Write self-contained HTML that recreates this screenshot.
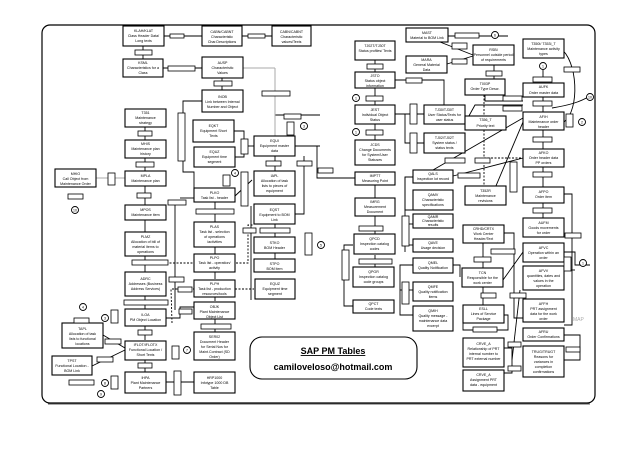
<!DOCTYPE html>
<html><head><meta charset="utf-8"><style>
html,body{margin:0;padding:0;background:#fff;}
svg{display:block;}
text{font-family:"Liberation Sans",sans-serif;fill:#000;}
.b{fill:#fff;stroke:#000;stroke-width:1.1;}
.l{fill:#fff;stroke:#000;stroke-width:0.8;}
.c{fill:none;stroke:#000;stroke-width:0.9;}
.d{fill:none;stroke:#000;stroke-width:0.9;stroke-dasharray:2 1.5;}
.g{fill:none;stroke:#aaa;stroke-width:1;}
.t{font-size:3.6px;text-anchor:middle;}
.s{font-size:2.6px;text-anchor:middle;}
</style></head><body>
<svg width="638" height="452" viewBox="0 0 638 452" xmlns="http://www.w3.org/2000/svg">
<rect x="42" y="25" width="553" height="378" rx="8" fill="#fff" stroke="#000" stroke-width="1.2"/>
<line x1="48" y1="404" x2="590" y2="404" stroke="#555" stroke-width="1"/>

<!-- connectors -->
<g class="c">
<line x1="164" y1="36" x2="202" y2="36"/><line x1="242" y1="36" x2="272" y2="36"/>
<line x1="143" y1="46" x2="143" y2="59"/><line x1="163" y1="68" x2="202" y2="68"/>
<line x1="222" y1="78" x2="222" y2="90"/>
<polyline points="202,101 183,101 183,172 194,172 194,188"/>
<line x1="145" y1="127" x2="145" y2="140"/><line x1="145" y1="158" x2="145" y2="171"/>
<line x1="96" y1="178" x2="125" y2="178"/><line x1="145" y1="186" x2="145" y2="205"/>
<line x1="145" y1="220" x2="145" y2="232"/>
<polyline points="234,131 244,131 244,157 235,157"/><line x1="244" y1="146" x2="254" y2="146"/>
<polyline points="275,136 275,115 320,115"/><line x1="295" y1="146" x2="320" y2="146"/>
<polyline points="304,156 304,214 295,214"/><line x1="275" y1="156" x2="275" y2="171"/>
<polyline points="295,146 317,146 317,178 355,178"/>
<line x1="215" y1="202" x2="215" y2="222"/><line x1="215" y1="247" x2="215" y2="254"/>
<line x1="215" y1="272" x2="215" y2="279"/><line x1="215" y1="289" x2="215" y2="301"/>
<line x1="215" y1="317" x2="215" y2="332"/>
<line x1="235" y1="196" x2="252" y2="180"/>
<polyline points="175,202 175,310"/><polyline points="180,198 194,198"/>
<line x1="145" y1="256" x2="145" y2="272"/><line x1="145" y1="287" x2="145" y2="309"/>
<line x1="145" y1="326" x2="145" y2="340"/><line x1="145" y1="360" x2="145" y2="372"/>
<polyline points="166,318 180,318 180,307 194,307"/>
<line x1="166" y1="382" x2="194" y2="382"/>
<line x1="103" y1="335" x2="125" y2="348"/><line x1="92" y1="366" x2="125" y2="350"/>
<line x1="275" y1="224" x2="275" y2="237"/><line x1="275" y1="253" x2="275" y2="259"/>
<line x1="251" y1="206" x2="251" y2="300"/>
<line x1="395" y1="80" x2="424" y2="80"/><polyline points="414,80 444,80 444,105"/>
<line x1="375" y1="60" x2="375" y2="72"/><line x1="375" y1="88" x2="375" y2="105"/>
<line x1="375" y1="124" x2="375" y2="140"/>
<polyline points="395,114 405,114 405,143 424,143"/><line x1="405" y1="114" x2="424" y2="114"/>
<line x1="375" y1="185" x2="375" y2="198"/><line x1="375" y1="216" x2="375" y2="235"/>
<line x1="375" y1="255" x2="375" y2="267"/>
<polyline points="353,245 344,245 344,306 353,306"/>
<polyline points="413,177 405,177 405,210 413,210"/><line x1="405" y1="177" x2="405" y2="252"/>
<polyline points="405,224 413,224"/><polyline points="405,245 413,245"/>
<polyline points="413,265 400,265 400,315 413,315"/><polyline points="400,290 413,290"/>
<polyline points="453,265 460,265 460,277"/>
<line x1="448" y1="36" x2="508" y2="36"/><line x1="440" y1="42" x2="473" y2="55"/>
<line x1="447" y1="64" x2="473" y2="56"/><line x1="494" y1="65" x2="494" y2="79"/>
<polyline points="485,95 485,101 523,101"/><polyline points="465,123 475,105 523,105"/>
<line x1="543" y1="97" x2="543" y2="112"/><line x1="543" y1="130" x2="543" y2="149"/>
<line x1="543" y1="167" x2="543" y2="187"/><line x1="543" y1="203" x2="543" y2="218"/>
<polyline points="564,194 572,194 572,325 564,325"/><polyline points="504,233 514,233 514,318 523,318"/>
<line x1="543" y1="81" x2="543" y2="70"/>
<path d="M560 48 C578 60 580 110 564 122"/>
<path d="M552 108 C570 105 580 102 590 96"/>
<line x1="453" y1="176" x2="523" y2="158"/><line x1="490" y1="200" x2="523" y2="122"/>
<line x1="433" y1="170" x2="523" y2="118"/>
<line x1="483" y1="243" x2="483" y2="268"/><line x1="503" y1="280" x2="523" y2="252"/>
<line x1="483" y1="287" x2="483" y2="307"/>
<polyline points="504,348 512,348 512,373 504,373"/><line x1="512" y1="360" x2="520" y2="290"/>
<polyline points="564,335 580,335 580,360 564,360"/>
<polyline points="564,252 575,252 575,265 590,265"/>
<polyline points="504,315 508,315 508,330 463,330 463,315"/>
<line x1="564" y1="270" x2="575" y2="270"/>
</g>
<g class="d">
<line x1="484" y1="95" x2="484" y2="186"/><line x1="484" y1="158" x2="523" y2="158"/>
<polyline points="166,263 235,263 248,263 248,225 254,225"/>
<polyline points="172,323 171,289 194,289"/><polyline points="235,289 254,289"/>
</g>
<line class="g" x1="243" y1="68" x2="275" y2="68"/><line class="g" x1="275" y1="68" x2="275" y2="136"/>
<line class="g" x1="96" y1="178" x2="125" y2="178"/>

<!-- boxes -->
<g>
<rect class="b" x="123" y="26" width="41" height="20"/><text class="t" x="143.5" y="32">KLAH/KLAT</text><text class="t" x="143.5" y="37">Class Header Data/</text><text class="t" x="143.5" y="42">Long texts</text>
<rect class="b" x="202" y="26" width="40" height="20"/><text class="t" x="222" y="33">CABN/CABNT</text><text class="t" x="222" y="38">Characteristic</text><text class="t" x="222" y="43">Char.Descriptions</text>
<rect class="b" x="272" y="26" width="39" height="20"/><text class="t" x="291.5" y="33">CABN/CABNT</text><text class="t" x="291.5" y="38">Characteristic</text><text class="t" x="291.5" y="43">values/Texts</text>
<rect class="b" x="123" y="59" width="40" height="18"/><text class="t" x="143" y="64">KSML</text><text class="t" x="143" y="69">Characteristics for a</text><text class="t" x="143" y="74">Class</text>
<rect class="b" x="202" y="57" width="41" height="21"/><text class="t" x="222.5" y="64">AUSP</text><text class="t" x="222.5" y="69">Characteristic</text><text class="t" x="222.5" y="74">Values</text>
<rect class="b" x="202" y="90" width="41" height="22"/><text class="t" x="222.5" y="98">INOB</text><text class="t" x="222.5" y="103">Link between Internal</text><text class="t" x="222.5" y="108">Number and Object</text>
<rect class="b" x="125" y="109" width="41" height="18"/><text class="t" x="145.5" y="114">T351</text><text class="t" x="145.5" y="119">Maintenance</text><text class="t" x="145.5" y="124">strategy</text>
<rect class="b" x="193" y="120" width="41" height="22"/><text class="t" x="213.5" y="127">EQKT</text><text class="t" x="213.5" y="132">Equipment Short</text><text class="t" x="213.5" y="137">Texts</text>
<rect class="b" x="194" y="147" width="41" height="20"/><text class="t" x="214.5" y="153">EQUZ</text><text class="t" x="214.5" y="158">Equipment time</text><text class="t" x="214.5" y="163">segment</text>
<rect class="b" x="254" y="136" width="41" height="20"/><text class="t" x="274.5" y="142">EQUI</text><text class="t" x="274.5" y="147">Equipment master</text><text class="t" x="274.5" y="152">data</text>
<rect class="b" x="125" y="140" width="41" height="18"/><text class="t" x="145.5" y="145">MHIS</text><text class="t" x="145.5" y="150">Maintenance plan</text><text class="t" x="145.5" y="155">history</text>
<rect class="b" x="125" y="171" width="41" height="15"/><text class="t" x="145.5" y="177">MPLA</text><text class="t" x="145.5" y="182">Maintenance plan</text>
<rect class="b" x="55" y="169" width="41" height="18"/><text class="t" x="75.5" y="175">MHIO</text><text class="t" x="75.5" y="180">Call Object from</text><text class="t" x="75.5" y="185">Maintenance Order</text>
<rect class="b" x="254" y="171" width="41" height="25"/><text class="t" x="274.5" y="177">IAPL</text><text class="t" x="274.5" y="182">Allocation of task</text><text class="t" x="274.5" y="187">lists to pieces of</text><text class="t" x="274.5" y="192">equipment</text>
<rect class="b" x="194" y="188" width="41" height="14"/><text class="t" x="214.5" y="194">PLKO</text><text class="t" x="214.5" y="199">Task list - header</text>
<rect class="b" x="254" y="204" width="41" height="20"/><text class="t" x="274.5" y="211">EQST</text><text class="t" x="274.5" y="216">Equipment to BOM</text><text class="t" x="274.5" y="221">Link</text>
<rect class="b" x="125" y="205" width="41" height="15"/><text class="t" x="145.5" y="211">MPOS</text><text class="t" x="145.5" y="216">Maintenance item</text>
<rect class="b" x="194" y="222" width="41" height="25"/><text class="t" x="214.5" y="228">PLAS</text><text class="t" x="214.5" y="233">Task list - selection</text><text class="t" x="214.5" y="238">of operations</text><text class="t" x="214.5" y="243">/activities</text>
<rect class="b" x="125" y="232" width="41" height="24"/><text class="t" x="145.5" y="238">PLMZ</text><text class="t" x="145.5" y="243">Allocation of bill of</text><text class="t" x="145.5" y="248">material items to</text><text class="t" x="145.5" y="253">operations</text>
<rect class="b" x="254" y="237" width="41" height="16"/><text class="t" x="274.5" y="244">STKO</text><text class="t" x="274.5" y="249">BOM Header</text>
<rect class="b" x="254" y="259" width="41" height="13"/><text class="t" x="274.5" y="265">STPO</text><text class="t" x="274.5" y="270">BOM item</text>
<rect class="b" x="194" y="254" width="41" height="18"/><text class="t" x="214.5" y="259">PLPO</text><text class="t" x="214.5" y="264">Task list - operation/</text><text class="t" x="214.5" y="269">activity</text>
<rect class="b" x="125" y="272" width="41" height="24"/><text class="t" x="145.5" y="280">ADRC</text><text class="t" x="145.5" y="285">Addresses (Business</text><text class="t" x="145.5" y="290">Address Services)</text>
<rect class="b" x="194" y="280" width="41" height="17"/><text class="t" x="214.5" y="285">PLPH</text><text class="t" x="214.5" y="290">Task list - production</text><text class="t" x="214.5" y="295">resources/tools</text>
<rect class="b" x="255" y="279" width="40" height="20"/><text class="t" x="275" y="285">EQUZ</text><text class="t" x="275" y="290">Equipment time</text><text class="t" x="275" y="295">segment</text>
<rect class="b" x="125" y="309" width="41" height="17"/><text class="t" x="145.5" y="316">ILOA</text><text class="t" x="145.5" y="321">PM Object Location</text>
<rect class="b" x="194" y="302" width="41" height="17"/><text class="t" x="214.5" y="308">OBJK</text><text class="t" x="214.5" y="313">Plant Maintenance</text><text class="t" x="214.5" y="318">Object List</text>
<rect class="b" x="125" y="341" width="41" height="19"/><text class="t" x="145.5" y="346">IFLOT/IFLOTX</text><text class="t" x="145.5" y="351">Functional Location /</text><text class="t" x="145.5" y="356">Short Texts</text>
<rect class="b" x="194" y="332" width="41" height="28"/><text class="t" x="214.5" y="338">SER02</text><text class="t" x="214.5" y="343">Document Header</text><text class="t" x="214.5" y="348">for Serial Nos for</text><text class="t" x="214.5" y="353">Maint.Contract (SD</text><text class="t" x="214.5" y="358">Order)</text>
<rect class="b" x="62" y="323" width="41" height="25"/><text class="t" x="82.5" y="330">TAPL</text><text class="t" x="82.5" y="335">Allocation of task</text><text class="t" x="82.5" y="340">lists to functional</text><text class="t" x="82.5" y="345">locations</text>
<rect class="b" x="52" y="356" width="40" height="19"/><text class="t" x="72" y="362">TPST</text><text class="t" x="72" y="367">Functional Location -</text><text class="t" x="72" y="372">BOM Link</text>
<rect class="b" x="125" y="372" width="41" height="21"/><text class="t" x="145.5" y="379">IHPA</text><text class="t" x="145.5" y="384">Plant Maintenance</text><text class="t" x="145.5" y="389">Partners</text>
<rect class="b" x="194" y="372" width="41" height="21"/><text class="t" x="214.5" y="379">HRP1000</text><text class="t" x="214.5" y="384">Infotype 1000 DB</text><text class="t" x="214.5" y="389">Table</text>

<rect class="b" x="406" y="28" width="42" height="14"/><text class="t" x="427" y="34">MAST</text><text class="t" x="427" y="39">Material to BOM Link</text>
<rect class="b" x="355" y="41" width="40" height="19"/><text class="t" x="375" y="47">TJ02T/TJ30T</text><text class="t" x="375" y="52">Status profiles/ Texts</text>
<rect class="b" x="406" y="56" width="41" height="17"/><text class="t" x="426.5" y="61">MARA</text><text class="t" x="426.5" y="66">General Material</text><text class="t" x="426.5" y="71">Data</text>
<rect class="b" x="473" y="45" width="41" height="20"/><text class="t" x="493.5" y="51">RSBI</text><text class="t" x="493.5" y="56">Personnel outside period</text><text class="t" x="493.5" y="61">of requirements</text>
<rect class="b" x="523" y="39" width="41" height="19"/><text class="t" x="543.5" y="45">T350I/ T353I_T</text><text class="t" x="543.5" y="50">Maintenance activity</text><text class="t" x="543.5" y="55">types</text>
<rect class="b" x="355" y="72" width="40" height="16"/><text class="t" x="375" y="77">JSTO</text><text class="t" x="375" y="82">Status object</text><text class="t" x="375" y="87">information</text>
<rect class="b" x="465" y="79" width="40" height="16"/><text class="t" x="485" y="85">T003P</text><text class="t" x="485" y="90">Order Type Descr.</text>
<rect class="b" x="523" y="83" width="41" height="14"/><text class="t" x="543.5" y="88">AUFK</text><text class="t" x="543.5" y="94">Order master data</text>
<rect class="b" x="355" y="105" width="40" height="19"/><text class="t" x="375" y="111">JEST</text><text class="t" x="375" y="116">Individual Object</text><text class="t" x="375" y="121">Status</text>
<rect class="b" x="424" y="105" width="41" height="19"/><text class="t" x="444.5" y="111">TJ30/TJ30T</text><text class="t" x="444.5" y="116">User Status/Texts for</text><text class="t" x="444.5" y="121">user status</text>
<rect class="b" x="465" y="116" width="41" height="14"/><text class="t" x="485.5" y="121">T356_T</text><text class="t" x="485.5" y="127">Priority text</text>
<rect class="b" x="523" y="112" width="41" height="18"/><text class="t" x="543.5" y="118">AFIH</text><text class="t" x="543.5" y="123">Maintenance order</text><text class="t" x="543.5" y="128">header</text>
<rect class="b" x="424" y="133" width="41" height="20"/><text class="t" x="444.5" y="139">TJ02/TJ02T</text><text class="t" x="444.5" y="144">System status /</text><text class="t" x="444.5" y="149">status texts</text>
<rect class="b" x="355" y="140" width="40" height="25"/><text class="t" x="375" y="146">JCDS</text><text class="t" x="375" y="151">Change Documents</text><text class="t" x="375" y="156">for System/User</text><text class="t" x="375" y="161">Statuses</text>
<rect class="b" x="523" y="149" width="41" height="18"/><text class="t" x="543.5" y="154">AFKO</text><text class="t" x="543.5" y="159">Order header data</text><text class="t" x="543.5" y="164">PP orders</text>
<rect class="b" x="413" y="170" width="40" height="13"/><text class="t" x="433" y="175">QALS</text><text class="t" x="433" y="180">Inspection lot record</text>
<rect class="b" x="355" y="172" width="40" height="13"/><text class="t" x="375" y="177">IMPTT</text><text class="t" x="375" y="182">Measuring Point</text>
<rect class="b" x="465" y="186" width="41" height="19"/><text class="t" x="485.5" y="192">T352R</text><text class="t" x="485.5" y="197">Maintenance</text><text class="t" x="485.5" y="202">revisions</text>
<rect class="b" x="523" y="187" width="41" height="16"/><text class="t" x="543.5" y="193">AFPO</text><text class="t" x="543.5" y="198">Order item</text>
<rect class="b" x="413" y="190" width="40" height="20"/><text class="t" x="433" y="196">QAMV</text><text class="t" x="433" y="201">Characteristic</text><text class="t" x="433" y="206">specifications</text>
<rect class="b" x="355" y="198" width="40" height="18"/><text class="t" x="375" y="203">IMRG</text><text class="t" x="375" y="208">Measurement</text><text class="t" x="375" y="213">Document</text>
<rect class="b" x="413" y="214" width="40" height="14"/><text class="t" x="433" y="218">QAMR</text><text class="t" x="433" y="222">Characteristic</text><text class="t" x="433" y="226">results</text>
<rect class="b" x="463" y="225" width="41" height="18"/><text class="t" x="483.5" y="230">CRHD/CRTX</text><text class="t" x="483.5" y="235">Work Center</text><text class="t" x="483.5" y="240">Header/Text</text>
<rect class="b" x="523" y="218" width="41" height="19"/><text class="t" x="543.5" y="224">AUFM</text><text class="t" x="543.5" y="229">Goods movements</text><text class="t" x="543.5" y="234">for order</text>
<rect class="b" x="354" y="234" width="41" height="20"/><text class="t" x="374.5" y="240">QPCD</text><text class="t" x="374.5" y="245">Inspection catalog</text><text class="t" x="374.5" y="250">codes</text>
<rect class="b" x="413" y="239" width="40" height="13"/><text class="t" x="433" y="244">QAVE</text><text class="t" x="433" y="249">Usage decision</text>
<rect class="b" x="523" y="243" width="41" height="19"/><text class="t" x="543.5" y="249">AFVC</text><text class="t" x="543.5" y="254">Operation within an</text><text class="t" x="543.5" y="259">order</text>
<rect class="b" x="413" y="258" width="40" height="15"/><text class="t" x="433" y="264">QMEL</text><text class="t" x="433" y="269">Quality Notification</text>
<rect class="b" x="462" y="268" width="41" height="19"/><text class="t" x="482.5" y="274">TCN</text><text class="t" x="482.5" y="279">Responsible for the</text><text class="t" x="482.5" y="284">work center</text>
<rect class="b" x="353" y="267" width="41" height="20"/><text class="t" x="373.5" y="273">QPGR</text><text class="t" x="373.5" y="278">Inspection catalog</text><text class="t" x="373.5" y="283">code groups</text>
<rect class="b" x="523" y="266" width="41" height="24"/><text class="t" x="543.5" y="272">AFVV</text><text class="t" x="543.5" y="277">quantities, dates and</text><text class="t" x="543.5" y="282">values in the</text><text class="t" x="543.5" y="287">operation</text>
<rect class="b" x="413" y="282" width="40" height="19"/><text class="t" x="433" y="288">QMFE</text><text class="t" x="433" y="293">Quality notification</text><text class="t" x="433" y="298">items</text>
<rect class="b" x="353" y="300" width="41" height="13"/><text class="t" x="373.5" y="305">QPCT</text><text class="t" x="373.5" y="310">Code texts</text>
<rect class="b" x="463" y="305" width="41" height="18"/><text class="t" x="483.5" y="310">ESLL</text><text class="t" x="483.5" y="315">Lines of Service</text><text class="t" x="483.5" y="320">Package</text>
<rect class="b" x="523" y="299" width="41" height="23"/><text class="t" x="543.5" y="305">AFFH</text><text class="t" x="543.5" y="310">PRT assignment</text><text class="t" x="543.5" y="315">data for the work</text><text class="t" x="543.5" y="320">order</text>
<rect class="b" x="413" y="306" width="40" height="25"/><text class="t" x="433" y="312">QMIH</text><text class="t" x="433" y="317">Quality message -</text><text class="t" x="433" y="322">maintenance data</text><text class="t" x="433" y="327">excerpt</text>
<rect class="b" x="523" y="328" width="41" height="13"/><text class="t" x="543.5" y="333">AFRU</text><text class="t" x="543.5" y="338">Order Confirmations</text>
<rect class="b" x="463" y="338" width="41" height="29"/><text class="t" x="483.5" y="345">CRVE_A</text><text class="t" x="483.5" y="350">Relationship of PRT</text><text class="t" x="483.5" y="355">internal number to</text><text class="t" x="483.5" y="360">PRT external number</text>
<rect class="b" x="523" y="346" width="41" height="31"/><text class="t" x="543.5" y="353">TRUG/TRUGT</text><text class="t" x="543.5" y="358">Reasons for</text><text class="t" x="543.5" y="363">variances in</text><text class="t" x="543.5" y="368">completion</text><text class="t" x="543.5" y="373">confirmations</text>
<rect class="b" x="463" y="370" width="41" height="21"/><text class="t" x="483.5" y="376">CRVE_A</text><text class="t" x="483.5" y="381">Assignment PRT</text><text class="t" x="483.5" y="386">data - equipment</text>
</g>
<text x="573" y="321" font-size="5" fill="#aaa" style="fill:#aaa;font-family:'Liberation Sans',sans-serif">MAP</text>

<!-- SAP title -->
<rect x="250" y="337" width="167" height="42" rx="12" fill="#fff" stroke="#000" stroke-width="1.1"/>
<text x="333" y="354" font-size="9" font-weight="bold" text-anchor="middle" text-decoration="underline">SAP PM Tables</text>
<text x="333" y="370" font-size="9" font-weight="bold" text-anchor="middle">camiloveloso@hotmail.com</text>

<!-- small labels -->
<g>
<rect class="l" x="170" y="34" width="14" height="4"/><rect class="l" x="248" y="34" width="17" height="4"/>
<rect class="l" x="135" y="50" width="17" height="5"/><rect class="l" x="168" y="66" width="27" height="5"/>
<rect class="l" x="214" y="81" width="18" height="5"/><rect class="l" x="262" y="91" width="28" height="5"/>
<rect class="l" x="138" y="131" width="14" height="5"/><rect class="l" x="136" y="162" width="18" height="5"/>
<rect class="l" x="137" y="193" width="14" height="5"/><rect class="l" x="108" y="173" width="7" height="12"/>
<rect class="l" x="68" y="194" width="15" height="5"/><rect class="l" x="178" y="113" width="7" height="48"/>
<rect class="l" x="241" y="139" width="7" height="15"/><rect class="l" x="284" y="114" width="17" height="5"/>
<rect class="l" x="287" y="122" width="7" height="13"/><rect class="l" x="266" y="161" width="15" height="5"/>
<rect class="l" x="297" y="161" width="15" height="5"/><rect class="l" x="318" y="168" width="15" height="5"/>
<rect class="l" x="223" y="175" width="7" height="11"/><rect class="l" x="241" y="172" width="7" height="34"/>
<rect class="l" x="168" y="200" width="18" height="5"/><rect class="l" x="196" y="209" width="38" height="5"/>
<rect class="l" x="243" y="228" width="13" height="5"/><rect class="l" x="260" y="228" width="30" height="5"/>
<rect class="l" x="305" y="233" width="7" height="22"/><rect class="l" x="132" y="260" width="36" height="5"/>
<rect class="l" x="169" y="277" width="15" height="5"/><rect class="l" x="178" y="287" width="14" height="5"/>
<rect class="l" x="124" y="300" width="44" height="5"/><rect class="l" x="179" y="309" width="13" height="5"/>
<rect class="l" x="201" y="324" width="30" height="5"/><rect class="l" x="111" y="310" width="7" height="13"/>
<rect class="l" x="138" y="330" width="14" height="5"/><rect class="l" x="138" y="363" width="14" height="5"/>
<rect class="l" x="105" y="339" width="16" height="5"/><rect class="l" x="97" y="357" width="16" height="5"/>
<rect class="l" x="74" y="318" width="15" height="5"/><rect class="l" x="69" y="380" width="25" height="5"/>
<rect class="l" x="111" y="376" width="7" height="13"/><rect class="l" x="172" y="346" width="7" height="13"/>
<rect class="l" x="174" y="371" width="7" height="24"/>
<rect class="l" x="455" y="33" width="24" height="5"/><rect class="l" x="452" y="43" width="15" height="6"/>
<rect class="l" x="452" y="59" width="15" height="5"/><rect class="l" x="486" y="71" width="16" height="5"/>
<rect class="l" x="367" y="64" width="16" height="5"/><rect class="l" x="406" y="78" width="16" height="5"/>
<rect class="l" x="366" y="96" width="17" height="5"/><rect class="l" x="366" y="130" width="17" height="5"/>
<rect class="l" x="410" y="104" width="7" height="20"/><rect class="l" x="410" y="133" width="7" height="20"/>
<rect class="l" x="503" y="96" width="19" height="5"/><rect class="l" x="503" y="106" width="19" height="5"/>
<rect class="l" x="533" y="77" width="19" height="5"/><rect class="l" x="533" y="101" width="19" height="5"/>
<rect class="l" x="533" y="137" width="19" height="5"/><rect class="l" x="533" y="172" width="19" height="5"/>
<rect class="l" x="533" y="208" width="19" height="5"/><rect class="l" x="564" y="67" width="16" height="5"/>
<rect class="l" x="566" y="114" width="7" height="13"/><rect class="l" x="445" y="158" width="20" height="5"/>
<rect class="l" x="475" y="158" width="15" height="5"/><rect class="l" x="458" y="173" width="22" height="5"/>
<rect class="l" x="510" y="162" width="7" height="30"/><rect class="l" x="359" y="226" width="24" height="5"/>
<rect class="l" x="359" y="259" width="33" height="5"/><rect class="l" x="342" y="250" width="7" height="30"/>
<rect class="l" x="402" y="216" width="7" height="30"/><rect class="l" x="402" y="282" width="7" height="22"/>
<rect class="l" x="491" y="249" width="24" height="5"/><rect class="l" x="474" y="257" width="17" height="5"/>
<rect class="l" x="481" y="293" width="15" height="5"/><rect class="l" x="510" y="293" width="16" height="5"/>
<rect class="l" x="565" y="233" width="16" height="5"/><rect class="l" x="564" y="257" width="7" height="14"/>
<rect class="l" x="473" y="327" width="24" height="5"/><rect class="l" x="508" y="342" width="13" height="5"/>
<rect class="l" x="508" y="366" width="13" height="5"/><rect class="l" x="566" y="347" width="14" height="5"/>
</g>
<!-- circles -->
<g fill="#fff" stroke="#000" stroke-width="0.9">
<circle cx="75" cy="210" r="3.5"/><circle cx="304" cy="126" r="3.5"/><circle cx="235" cy="173" r="3.5"/>
<circle cx="321" cy="245" r="3.5"/><circle cx="83" cy="307" r="3.5"/><circle cx="105" cy="318" r="3.5"/>
<circle cx="187" cy="350" r="3.5"/><circle cx="105" cy="383" r="3.5"/><circle cx="101" cy="394" r="3.5"/>
<circle cx="495" cy="35" r="3.5"/><circle cx="543" cy="66" r="3.5"/><circle cx="590" cy="97" r="3.5"/>
<circle cx="582" cy="122" r="3.5"/><circle cx="356" cy="98" r="3.5"/><circle cx="356" cy="132" r="3.5"/>
<circle cx="583" cy="263" r="3.5"/>
</g>
<g font-size="3.5" text-anchor="middle">
<text x="75" y="211.5">10</text><text x="304" y="127.5">3</text><text x="235" y="174.5">4</text><text x="321" y="246.5">5</text>
<text x="83" y="308.5">4</text><text x="105" y="319.5">3</text><text x="187" y="351.5">7</text><text x="105" y="384.5">8</text><text x="101" y="395.5">9</text>
<text x="495" y="36.5">6</text><text x="543" y="67.5">1</text><text x="590" y="98.5">10</text><text x="582" y="123.5">2</text>
<text x="356" y="99.5">1</text><text x="356" y="133.5">1</text><text x="583" y="264.5">1</text>
</g>
</svg>
</body></html>
